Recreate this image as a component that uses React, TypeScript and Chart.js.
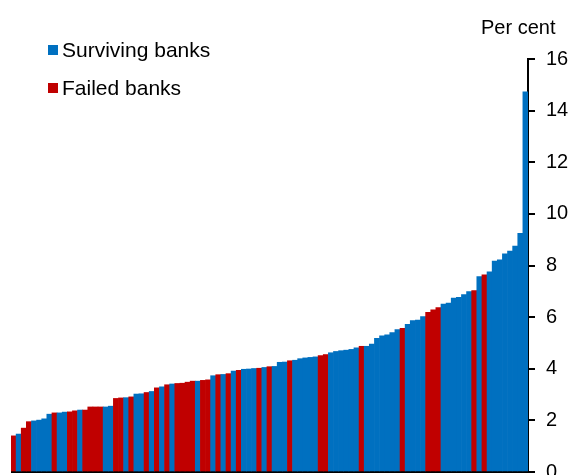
import React, { useEffect, useRef } from 'react';
import { Chart, registerables } from 'chart.js';

Chart.register(...registerables);

// leverage ratio of each bank, sorted from lowest to highest
const ratios = [
  1.40, 1.47, 1.70, 1.95, 1.98, 2.01, 2.06, 2.24, 2.29, 2.29,
  2.32, 2.33, 2.37, 2.40, 2.40, 2.52, 2.52, 2.52, 2.52, 2.55,
  2.85, 2.87, 2.88, 2.91, 3.02, 3.03, 3.08, 3.12, 3.26, 3.30,
  3.38, 3.41, 3.43, 3.44, 3.48, 3.52, 3.52, 3.55, 3.57, 3.73,
  3.77, 3.78, 3.81, 3.91, 3.94, 3.98, 3.99, 4.01, 4.02, 4.05,
  4.08, 4.09, 4.25, 4.26, 4.31, 4.33, 4.39, 4.42, 4.44, 4.46,
  4.51, 4.55, 4.62, 4.67, 4.70, 4.72, 4.75, 4.81, 4.87, 4.87,
  4.96, 5.18, 5.28, 5.31, 5.40, 5.52, 5.57, 5.72, 5.87, 5.89,
  6.02, 6.19, 6.28, 6.37, 6.51, 6.54, 6.74, 6.77, 6.87, 6.99,
  7.03, 7.57, 7.64, 7.75, 8.17, 8.22, 8.45, 8.56, 8.75, 9.25,
  14.73,
];

// S = surviving, F = failed
const status = [
  'F', 'S', 'F', 'F', 'S', 'S', 'S', 'S', 'F', 'S',
  'S', 'F', 'F', 'S', 'F', 'F', 'F', 'F', 'S', 'S',
  'F', 'F', 'S', 'F', 'S', 'S', 'F', 'S', 'F', 'S',
  'F', 'S', 'F', 'F', 'F', 'F', 'S', 'F', 'F', 'S',
  'F', 'S', 'F', 'S', 'F', 'S', 'S', 'S', 'F', 'S',
  'F', 'S', 'S', 'S', 'F', 'S', 'S', 'S', 'S', 'S',
  'F', 'F', 'S', 'S', 'S', 'S', 'S', 'S', 'F', 'S',
  'S', 'S', 'S', 'S', 'S', 'S', 'F', 'S', 'S', 'S',
  'S', 'F', 'F', 'F', 'S', 'S', 'S', 'S', 'S', 'S',
  'F', 'S', 'F', 'S', 'S', 'S', 'S', 'S', 'S', 'S',
  'S',
];

const yTicks = [0, 2, 4, 6, 8, 10, 12, 14, 16];

const BLUE = '#0070C0';
const RED = '#C00000';
const FONT = '"Liberation Sans", Arial, sans-serif';

// canvas is a bit taller than the window so the 0 label gets cut at the bottom edge
const CANVAS_H = 495;

const LeverageChart = () => {
  const canvasRef = useRef(null);
  const chartRef = useRef(null);

  useEffect(() => {
    if (!canvasRef.current) return;
    const ctx = canvasRef.current.getContext('2d');
    if (!ctx) return;

    const labels = ratios.map((_, i) => String(i + 1));
    const colors = status.map(s => (s === 'F' ? RED : BLUE));

    chartRef.current = new Chart(ctx, {
      type: 'bar',
      data: {
        labels,
        datasets: [{
          data: ratios,
          backgroundColor: colors,
          borderWidth: 0,
          barPercentage: 1,
          categoryPercentage: 1,
        }],
      },
      options: {
        animation: false,
        responsive: false,
        layout: { padding: { left: 11, top: 59, bottom: 14, right: 0 } },
        plugins: { legend: { display: false }, tooltip: { enabled: false } },
        scales: {
          x: { display: false },
          y: {
            position: 'right',
            min: yTicks[0],
            max: yTicks[yTicks.length - 1],
            z: 1,
            afterFit: (scale) => { scale.width = 46; },
            afterBuildTicks: (scale) => { scale.ticks = yTicks.map(v => ({ value: v })); },
            border: { display: true, color: '#000', width: 2 },
            grid: {
              color: (c) => (c.tick && c.tick.value === 0 ? '#000' : 'rgba(0,0,0,0)'),
              lineWidth: 2,
              tickColor: '#000',
              tickLength: 7,
              tickWidth: 2,
            },
            ticks: {
              color: '#000',
              padding: 11,
              font: { family: FONT, size: 20 },
            },
          },
        },
      },
    });

    return () => {
      if (chartRef.current) {
        chartRef.current.destroy();
        chartRef.current = null;
      }
    };
  }, []);

  return (
    <div style={{ position: 'absolute', left: 0, top: 0, width: 574, height: CANVAS_H }}>
      <canvas ref={canvasRef} width={574} height={CANVAS_H} style={{ width: 574, height: CANVAS_H }} />
    </div>
  );
};

const legendItems = [
  { label: 'Surviving banks', color: BLUE, top: 39 },
  { label: 'Failed banks', color: RED, top: 77 },
];

export default function App() {
  return (
    <div style={{ position: 'absolute', left: 0, top: 0, width: 574, height: 475, overflow: 'hidden', background: '#fff', fontFamily: FONT }}>
      <LeverageChart />
      {legendItems.map(item => (
        <div key={item.label} style={{ position: 'absolute', left: 48, top: item.top, height: 21 }}>
          <div style={{ position: 'absolute', left: 0, top: 6, width: 10, height: 10, background: item.color }} />
          <div style={{ position: 'absolute', left: 14, top: 0, fontSize: 21, lineHeight: '21px', whiteSpace: 'nowrap', color: '#000' }}>
            {item.label}
          </div>
        </div>
      ))}
      <div style={{ position: 'absolute', left: 481, top: 17, fontSize: 20, lineHeight: '20px', whiteSpace: 'nowrap', color: '#000' }}>
        Per cent
      </div>
    </div>
  );
}
